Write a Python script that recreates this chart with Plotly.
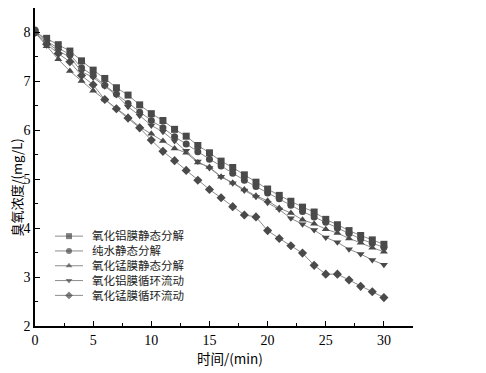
import plotly.graph_objects as go

time_min = list(range(0, 31))

names = ["氧化铝膜静态分解", "纯水静态分解", "氧化锰膜静态分解", "氧化铝膜循环流动", "氧化锰膜循环流动"]

al_static = [8.00, 7.88, 7.75, 7.62, 7.42, 7.23, 7.06, 6.87, 6.72, 6.52, 6.34, 6.20, 6.02, 5.88, 5.69, 5.54,
             5.37, 5.24, 5.09, 4.94, 4.80, 4.67, 4.55, 4.43, 4.33, 4.18, 4.07, 3.95, 3.85, 3.76, 3.67]
water_static = [8.05, 7.82, 7.68, 7.55, 7.28, 7.12, 6.92, 6.74, 6.55, 6.37, 6.20, 6.05, 5.87, 5.72, 5.56, 5.41,
                5.27, 5.12, 4.98, 4.85, 4.72, 4.60, 4.47, 4.34, 4.23, 4.12, 4.00, 3.89, 3.78, 3.69, 3.61]
mn_static = [8.00, 7.72, 7.45, 7.21, 7.01, 6.81, 6.63, 6.45, 6.27, 6.07, 5.93, 5.78, 5.63, 5.54, 5.34, 5.25,
             5.05, 4.93, 4.79, 4.66, 4.56, 4.41, 4.31, 4.17, 4.09, 3.98, 3.90, 3.79, 3.70, 3.60, 3.52]
al_flow = [8.00, 7.80, 7.62, 7.50, 7.20, 7.08, 6.90, 6.72, 6.48, 6.30, 6.10, 5.97, 5.78, 5.58, 5.36, 5.23,
           5.05, 4.92, 4.77, 4.64, 4.52, 4.38, 4.20, 4.08, 3.96, 3.81, 3.71, 3.57, 3.47, 3.35, 3.25]
mn_flow = [8.00, 7.76, 7.57, 7.40, 7.12, 6.93, 6.63, 6.44, 6.25, 6.05, 5.80, 5.57, 5.38, 5.18, 4.98, 4.79,
           4.62, 4.44, 4.27, 4.23, 3.95, 3.79, 3.64, 3.49, 3.24, 3.06, 3.06, 2.94, 2.81, 2.70, 2.58]

series = [al_static, water_static, mn_static, al_flow, mn_flow]
symbols = ["square", "circle", "triangle-up", "triangle-down", "diamond"]

serif = "Liberation Serif, Times New Roman, Noto Sans CJK SC, serif"
cjk = "Noto Sans CJK SC, Liberation Serif, serif"
LINE_C = "#8c8c8c"
MARK_C = "#4a4a4a"

# page has an 8px body margin; figure coordinates = page pixel - OFF
OFF = 8
W, H = 486 - OFF, 373 - OFF
PLOT_L, PLOT_R, PLOT_T, PLOT_B = 35, 413, 4, 326   # target page pixels of plot area
ML, MR, MB = PLOT_L - OFF, W - (PLOT_R - OFF), H - (PLOT_B - OFF)
MT = max(PLOT_T - OFF, 0)
PW, PH = W - ML - MR, H - MT - MB


def px(xp):
    return (xp - OFF - ML) / PW


def py(yp):
    return (H - MB - (yp - OFF)) / PH


fig = go.Figure()
for name, vals, sym in zip(names, series, symbols):
    fig.add_trace(go.Scatter(
        x=time_min, y=vals, name=name, mode="lines+markers",
        line=dict(color=LINE_C, width=1),
        marker=dict(symbol=sym, size=7, color=MARK_C, line=dict(width=0)),
        showlegend=False,
    ))

# custom legend (compact row spacing) drawn on an overlay pixel-scaled axis
leg_x0, leg_x1, leg_xt = 55, 83, 90
leg_y0, leg_dy = 235, 15
for i, (name, sym) in enumerate(zip(names, symbols)):
    yy = leg_y0 + i * leg_dy
    fig.add_trace(go.Scatter(
        x=[leg_x0, (leg_x0 + leg_x1) / 2, leg_x1], y=[yy, yy, yy],
        xaxis="x2", yaxis="y2", mode="lines+markers",
        line=dict(color=LINE_C, width=1),
        marker=dict(symbol=sym, size=[0, 6, 0], color=MARK_C, line=dict(width=0)),
        showlegend=False, hoverinfo="skip",
    ))
    fig.add_annotation(x=px(leg_xt), y=py(yy), xref="paper", yref="paper",
                       text=name, showarrow=False, xanchor="left", yanchor="middle",
                       font=dict(family=cjk, size=11.5, color="#222"))

axis_common = dict(
    showline=True, linecolor="black", linewidth=1.5, mirror=False,
    ticks="inside", ticklen=5, tickwidth=1, tickcolor="black",
    showgrid=False, zeroline=False, automargin=False,
    tickfont=dict(family=serif, size=14, color="black"),
)

fig.update_xaxes(range=[0, 32.5], dtick=5, tick0=0,
                 minor=dict(ticks="inside", ticklen=3, dtick=2.5, tickcolor="black"),
                 **axis_common)
fig.update_yaxes(range=[2, 8.5], dtick=1, tick0=2,
                 minor=dict(ticks="inside", ticklen=3, dtick=0.5, tickcolor="black"),
                 **axis_common)

fig.update_layout(
    xaxis2=dict(overlaying="x", range=[PLOT_L, PLOT_R], visible=False, fixedrange=True),
    yaxis2=dict(overlaying="y", range=[PLOT_B, PLOT_T], visible=False, fixedrange=True),
)

fig.add_annotation(x=px(230), y=py(358), xref="paper", yref="paper", text="时间/(min)",
                   showarrow=False, xanchor="center", yanchor="middle",
                   font=dict(family=cjk, size=13.5, color="black"))
fig.add_annotation(x=px(15.5), y=py(188), xref="paper", yref="paper", text="臭氧浓度/(mg/L)",
                   showarrow=False, xanchor="center", yanchor="middle", textangle=-90,
                   font=dict(family=cjk, size=13, color="black"))

fig.update_layout(
    width=W, height=H,
    margin=dict(l=ML, r=MR, t=MT, b=MB),
    plot_bgcolor="white", paper_bgcolor="white",
    font=dict(color="black"),
    showlegend=False,
)

fig.write_html("out.html")
